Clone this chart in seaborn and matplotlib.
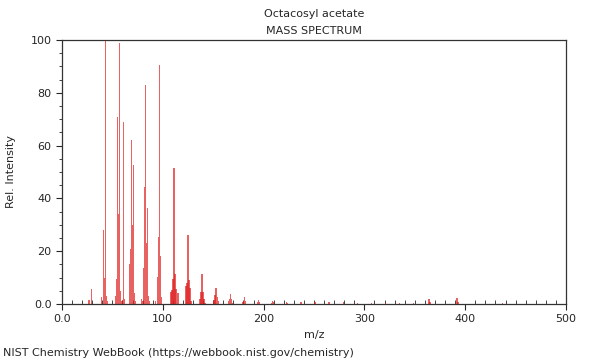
import matplotlib
matplotlib.use('Agg')
import matplotlib.pyplot as plt
import seaborn as sns
import pandas as pd
from matplotlib.ticker import MultipleLocator, FuncFormatter

# Peak list (m/z, relative intensity)
mz = [27, 29, 39, 41, 42, 43, 44, 45,
      53, 54, 55, 56, 57, 58, 59, 60, 61, 62,
      67, 68, 69, 70, 71, 72, 73,
      79, 80, 81, 82, 83, 84, 85, 86, 87,
      93, 95, 96, 97, 98, 99,
      108, 109, 110, 111, 112, 113, 115,
      123, 124, 125, 126, 127, 128,
      137, 138, 139, 140, 141, 142,
      151, 152, 153, 154, 155,
      165, 166, 167, 168, 169,
      179, 180, 181, 182,
      194, 195, 196,
      208, 209, 210,
      223, 224, 237, 251, 265, 279, 293, 307, 321, 335, 349,
      364, 365, 392, 393, 437]
intensity = [1.5, 5.5, 2.5, 28, 10, 100, 3, 1,
             3, 9.5, 71, 34, 99, 5, 1, 1.5, 69, 2,
             15, 21, 62, 30, 52.5, 4, 1,
             2, 1, 13.6, 44.5, 83, 23, 36.5, 3, 1,
             1, 10.3, 25.5, 90.5, 18, 2.5,
             4.5, 5.3, 9.5, 51.5, 11.5, 5.5, 4.3,
             7, 8, 26, 9, 6, 1,
             2, 4.5, 11.5, 4.5, 2, 0.5,
             1.5, 3.3, 6, 2.7, 1,
             1, 2, 3.8, 2, 0.5,
             0.6, 1.3, 2.5, 1.2,
             0.9, 1.5, 0.9,
             0.5, 1.1, 0.6,
             0.8, 0.4, 0.7, 0.6, 0.6, 0.6, 0.5, 0.5, 0.4, 0.4, 0.3,
             1.9, 0.6, 2.1, 0.7, 0.3]

df = pd.DataFrame({'mz': mz, 'intensity': intensity})

sns.set_style('white')
plt.rcParams['font.family'] = ['DejaVu Sans']

fig = plt.figure(figsize=(6, 3.6), dpi=100)
ax = fig.add_axes([0.1033, 0.1556, 0.84, 0.7333])

sns.barplot(data=df, x='mz', y='intensity', native_scale=True, width=1.4,
            color='#ff0000', alpha=0.7, linewidth=0, errorbar=None, ax=ax)

ax.set_xlim(0, 500)
ax.set_ylim(0, 100)

fmt = FuncFormatter(lambda v, p: '0.0' if v == 0 else f'{v:.0f}')
ax.xaxis.set_major_locator(MultipleLocator(100))
ax.xaxis.set_minor_locator(MultipleLocator(10))
ax.yaxis.set_major_locator(MultipleLocator(20))
ax.yaxis.set_minor_locator(MultipleLocator(5))
ax.xaxis.set_major_formatter(fmt)
ax.yaxis.set_major_formatter(fmt)

ax.tick_params(axis='x', which='major', direction='out', length=4, width=0.8,
               labelsize=8, bottom=True)
ax.tick_params(axis='x', which='minor', direction='in', length=3, width=0.6,
               bottom=True)
ax.tick_params(axis='y', which='major', direction='out', length=4, width=0.8,
               labelsize=8, left=True)
ax.tick_params(axis='y', which='minor', direction='out', length=2, width=0.6,
               left=True)

for s in ax.spines.values():
    s.set_color('#333333')
    s.set_linewidth(0.9)

ax.set_xlabel('m/z', fontsize=8)
ax.set_ylabel('Rel. Intensity', fontsize=8)
ax.yaxis.set_label_coords(-0.091, 0.5)

fig.text(0.523, 0.962, 'Octacosyl acetate', ha='center', va='center', fontsize=8)
fig.text(0.523, 0.915, 'MASS SPECTRUM', ha='center', va='center', fontsize=8)
fig.text(0.005, 0.02, 'NIST Chemistry WebBook (https://webbook.nist.gov/chemistry)',
         ha='left', va='center', fontsize=8)

fig.savefig('out.png', dpi=100)
plt.close(fig)
